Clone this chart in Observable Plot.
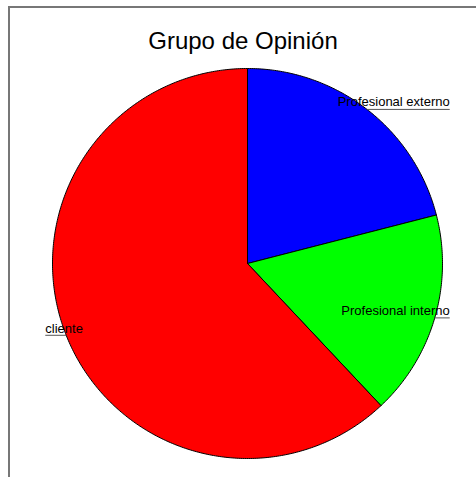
<!DOCTYPE html>
<html>
<head>
<meta charset="utf-8">
<script src="https://cdn.jsdelivr.net/npm/d3@7"></script>
<script src="https://cdn.jsdelivr.net/npm/@observablehq/plot@0.6"></script>
<style>
  html, body { margin: 0; padding: 0; background: #fff; }
  #wrap { position: relative; width: 476px; height: 477px; overflow: hidden; }
  #border { position: absolute; left: 8px; top: 6px; width: 600px; height: 600px;
            border-left: 2px solid #777; border-top: 2px solid #777; box-sizing: border-box; }
  #chart { position: absolute; left: 0; top: 0; }
</style>
</head>
<body>
<div id="wrap"><div id="border"></div><div id="chart"></div></div>
<script>
const title = "Grupo de Opinión";
const categories = ["Profesional externo", "Profesional interno", "cliente"];
const values = [21, 17, 62];
const colors = ["#0000ff", "#00ff00", "#ff0000"];

// Slice geometry from d3.pie (clockwise from 12 o'clock), in unit data coordinates
const arcs = d3.pie().sort(null).value(d => d.value)(
  categories.map((c, i) => ({category: c, value: values[i]}))
);
const polys = [];
const labels = [];
arcs.forEach(a => {
  const cat = a.data.category;
  polys.push({category: cat, x: 0, y: 0});
  const steps = Math.max(8, Math.ceil((a.endAngle - a.startAngle) / 0.01));
  for (let k = 0; k <= steps; k++) {
    const t = a.startAngle + (a.endAngle - a.startAngle) * k / steps;
    polys.push({category: cat, x: Math.sin(t), y: Math.cos(t)});
  }
  polys.push({category: cat, x: 0, y: 0});
  const m = (a.startAngle + a.endAngle) / 2;
  const px = Math.sin(m), py = Math.cos(m);
  const side = px >= 0 ? 1 : -1;
  labels.push({category: cat, x1: px, y1: py, x2: side * 1.037, y2: py, side});
});
const rightLabels = labels.filter(d => d.side > 0);
const leftLabels = labels.filter(d => d.side < 0);

const plot = Plot.plot({
  width: 476,
  height: 477,
  marginLeft: 52,
  marginRight: 34,
  marginTop: 68,
  marginBottom: 19,
  x: {domain: [-1, 1], axis: null},
  y: {domain: [-1, 1], axis: null},
  color: {domain: categories, range: colors},
  style: {fontFamily: "'Liberation Sans', Arial, sans-serif", background: "transparent"},
  marks: [
    Plot.line(polys, {x: "x", y: "y", z: "category", fill: "category",
                      stroke: "black", strokeWidth: 1, strokeLinejoin: "round"}),
    Plot.link(labels, {x1: "x1", y1: "y1", x2: "x2", y2: "y2", stroke: "#555", strokeWidth: 1}),
    Plot.text(rightLabels, {x: "x2", y: "y2", text: "category", textAnchor: "end",
                            lineAnchor: "bottom", dy: -3, fontSize: 13, fill: "black"}),
    Plot.text(leftLabels, {x: "x2", y: "y2", text: "category", textAnchor: "start",
                           lineAnchor: "bottom", dy: -2, fontSize: 13, fill: "black"}),
    Plot.text([title], {frameAnchor: "top", text: d => d, dx: -4.5, dy: -20,
                        lineAnchor: "bottom", fontSize: 24, fill: "black"})
  ]
});
document.getElementById("chart").appendChild(plot);
</script>
</body>
</html>
